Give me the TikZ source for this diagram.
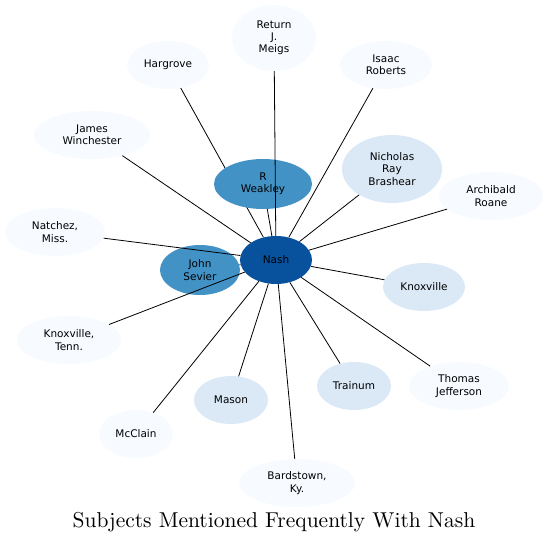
\documentclass[tikz,border=0pt]{standalone}
\usepackage{fontspec}
\newfontfamily\subjfont{DejaVu Sans}
\usetikzlibrary{shapes.geometric,backgrounds}

\definecolor{hubblue}{HTML}{08519C}
\definecolor{midblue}{HTML}{4292C6}
\definecolor{lightblue}{HTML}{DBE9F6}
\definecolor{paleblue}{HTML}{F7FBFF}

\begin{document}
\begin{tikzpicture}[x=1pt,y=-1pt,
  subj/.style={ellipse,inner sep=0pt,align=center,
    font=\subjfont\fontsize{10.5}{12.2}\selectfont},
  sz/.style 2 args={minimum width=#1pt,minimum height=#2pt},
  link/.style={line width=0.8pt,black}]
  \useasboundingbox (0,0) rectangle (549,544);
  % centre of the star
  \node[subj,sz={72}{48},fill=hubblue] (nash) at (276,260) {Nash};
  % most frequent
  \node[subj,sz={98}{50},fill=midblue] (weakley) at (263,184) {R\\Weakley};
  \node[subj,sz={80}{50},fill=midblue] (sevier) at (200,270) {John\\Sevier};
  % middle group
  \node[subj,sz={100}{68},fill=lightblue] (brashear) at (392,169) {Nicholas\\Ray\\Brashear};
  \node[subj,sz={82}{48},fill=lightblue] (knoxville) at (424,287) {Knoxville};
  \node[subj,sz={74}{48},fill=lightblue] (trainum) at (354,386) {Trainum};
  \node[subj,sz={74}{48},fill=lightblue] (mason) at (231,400) {Mason};
  % outer ring
  \node[subj,sz={84}{66},fill=paleblue] (meigs) at (274,38) {Return\\J.\\Meigs};
  \node[subj,sz={92}{48},fill=paleblue] (roberts) at (386,65) {Isaac\\Roberts};
  \node[subj,sz={82}{48},fill=paleblue] (hargrove) at (168,65) {Hargrove};
  \node[subj,sz={116}{48},fill=paleblue] (winchester) at (92,135) {James\\Winchester};
  \node[subj,sz={104}{48},fill=paleblue] (roane) at (491,196) {Archibald\\Roane};
  \node[subj,sz={100}{48},fill=paleblue] (natchez) at (55,232) {Natchez,\\Miss.};
  \node[subj,sz={104}{48},fill=paleblue] (knoxtenn) at (69,340) {Knoxville,\\Tenn.};
  \node[subj,sz={74}{48},fill=paleblue] (mcclain) at (136,434) {McClain};
  \node[subj,sz={116}{48},fill=paleblue] (bardstown) at (297,483) {Bardstown,\\Ky.};
  \node[subj,sz={100}{48},fill=paleblue] (jefferson) at (459,386) {Thomas\\Jefferson};

  \begin{scope}[on background layer]
    \draw[link] (hargrove) -- (nash);
  \end{scope}
  \foreach \n in {meigs,roberts,brashear,roane,knoxville,jefferson,trainum,
    bardstown,mason,mcclain,knoxtenn,sevier,natchez,winchester,weakley}
    \draw[link] (nash) -- (\n);

  \node[scale=2.15,font=\fontsize{10}{12}\selectfont] (title) at (274,522)
    {Subjects Mentioned Frequently With Nash};
\end{tikzpicture}
\end{document}
